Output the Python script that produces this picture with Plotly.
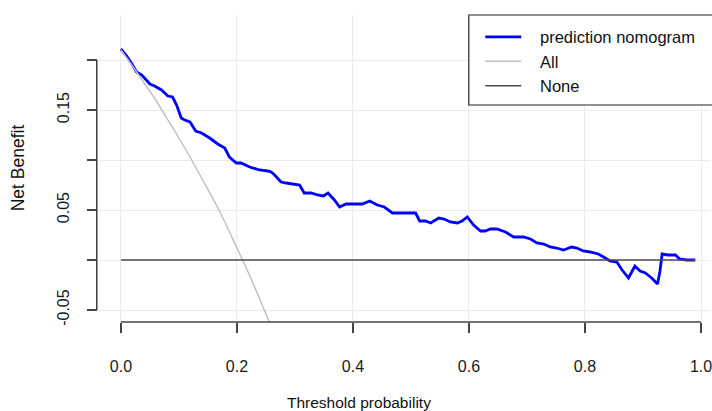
import plotly.graph_objects as go

# Decision curve data
thresholds = [0.000, 0.010, 0.018, 0.027, 0.036, 0.041, 0.050, 0.058, 0.070, 0.081,
              0.089, 0.096, 0.104, 0.110, 0.119, 0.129, 0.139, 0.153, 0.167, 0.179,
              0.187, 0.199, 0.207, 0.222, 0.239, 0.253, 0.259, 0.265, 0.276, 0.285,
              0.308, 0.316, 0.328, 0.339, 0.349, 0.357, 0.368, 0.377, 0.388, 0.416,
              0.429, 0.442, 0.454, 0.468, 0.488, 0.508, 0.515, 0.525, 0.534, 0.548,
              0.557, 0.568, 0.580, 0.588, 0.597, 0.608, 0.620, 0.628, 0.637, 0.648,
              0.663, 0.677, 0.694, 0.706, 0.717, 0.729, 0.740, 0.751, 0.763, 0.769,
              0.777, 0.786, 0.797, 0.809, 0.823, 0.835, 0.843, 0.855, 0.864, 0.875,
              0.886, 0.895, 0.904, 0.915, 0.925, 0.929, 0.933, 0.943, 0.956, 0.963,
              0.975, 0.990]
nomogram_nb = [0.211, 0.204, 0.197, 0.188, 0.185, 0.182, 0.176, 0.174, 0.170, 0.164,
               0.163, 0.155, 0.142, 0.140, 0.138, 0.129, 0.127, 0.122, 0.116, 0.112,
               0.103, 0.097, 0.097, 0.093, 0.090, 0.089, 0.088, 0.085, 0.078, 0.077,
               0.075, 0.067, 0.067, 0.065, 0.064, 0.067, 0.060, 0.053, 0.056, 0.056,
               0.059, 0.055, 0.053, 0.047, 0.047, 0.047, 0.039, 0.039, 0.037, 0.042,
               0.041, 0.038, 0.037, 0.039, 0.043, 0.035, 0.029, 0.029, 0.031, 0.031,
               0.028, 0.023, 0.023, 0.021, 0.017, 0.016, 0.013, 0.012, 0.010, 0.011,
               0.013, 0.012, 0.009, 0.008, 0.006, 0.002, -0.001, -0.002, -0.010, -0.018,
               -0.006, -0.011, -0.013, -0.018, -0.024, -0.012, 0.006, 0.005, 0.005, 0.001,
               0.000, 0.000]

all_thresholds = [0.00, 0.02, 0.04, 0.06, 0.08, 0.10, 0.12, 0.14, 0.16, 0.18, 0.20, 0.22, 0.24, 0.26]
all_nb = [0.210, 0.194, 0.177, 0.160, 0.141, 0.122, 0.102, 0.081, 0.060, 0.037, 0.012, -0.013, -0.040, -0.068]

none_thresholds = [0.0, 0.99]
none_nb = [0.0, 0.0]

series_names = ["prediction nomogram", "All", "None"]

x_ticks = [0.0, 0.2, 0.4, 0.6, 0.8, 1.0]
x_ticktext = ["0.0", "0.2", "0.4", "0.6", "0.8", "1.0"]
y_ticks = [-0.05, 0.0, 0.05, 0.10, 0.15, 0.20]
y_ticktext = ["-0.05", "", "0.05", "", "0.15", ""]

FONT = "Liberation Sans, Arial, sans-serif"
AXC = "#444444"
PAD = "\u00a0\u00a0\u00a0"  # gap between legend line sample and label (as in R legend)

fig = go.Figure()
fig.add_trace(go.Scatter(x=thresholds, y=nomogram_nb, mode="lines",
                         name=PAD + series_names[0],
                         line=dict(color="#0000ff", width=2.8)))
fig.add_trace(go.Scatter(x=all_thresholds, y=all_nb, mode="lines", name=PAD + series_names[1],
                         line=dict(color="#bebebe", width=1.4, shape="spline")))
fig.add_trace(go.Scatter(x=none_thresholds, y=none_nb, mode="lines", name=PAD + series_names[2],
                         line=dict(color="#4a4a4a", width=1.6)))

fig.update_layout(
    width=712, height=411,
    margin=dict(l=98, r=0, t=15, b=89),
    plot_bgcolor="white", paper_bgcolor="white",
    font=dict(family=FONT, color="#1a1a1a", size=16),
    showlegend=True,
    legend=dict(x=0.6246, y=0.985, xanchor="left", yanchor="top",
                bgcolor="rgba(0,0,0,0)", borderwidth=0, itemwidth=36,
                font=dict(size=16.5, family=FONT, color="#111111")),
    xaxis=dict(range=[-0.0395, 1.0155], tickvals=x_ticks, ticktext=x_ticktext,
               ticks="outside", ticklen=10, tickwidth=1.5, tickcolor=AXC,
               showgrid=True, gridcolor="#ebebeb", gridwidth=1,
               zeroline=False, showline=False, ticklabelstandoff=20,
               ticklabeloverflow="allow", tickfont=dict(size=16)),
    yaxis=dict(range=[-0.062, 0.245], tickvals=y_ticks, ticktext=y_ticktext,
               ticks="outside", ticklen=10, tickwidth=1.5, tickcolor=AXC,
               showgrid=True, gridcolor="#ebebeb", gridwidth=1,
               zeroline=False, showline=False, tickangle=-90,
               ticklabelstandoff=12, tickfont=dict(size=16)),
    shapes=[
        # detached R-style axis lines spanning the tick range
        dict(type="line", xref="x", yref="paper", x0=x_ticks[0], x1=x_ticks[-1],
             y0=0, y1=0, line=dict(color=AXC, width=1.6)),
        dict(type="line", xref="paper", yref="y", x0=-0.002, x1=-0.002,
             y0=y_ticks[0], y1=y_ticks[-1], line=dict(color=AXC, width=1.6)),
        # legend box
        dict(type="rect", xref="paper", yref="paper", x0=0.6059, x1=1.06,
             y0=0.7068, y1=1.0, line=dict(color="#222222", width=1.2),
             fillcolor="white", layer="above"),
    ],
    annotations=[
        dict(text="Threshold probability", xref="paper", yref="paper",
             x=0.4267, y=-0.2606, xanchor="center", yanchor="middle",
             showarrow=False, font=dict(size=15.5, family=FONT, color="#111111")),
        dict(text="Net Benefit", xref="paper", yref="paper",
             x=-0.1303, y=0.5016, xanchor="center", yanchor="middle",
             textangle=-90, showarrow=False,
             font=dict(size=17.5, family=FONT, color="#111111")),
    ],
)

fig.write_html("out.html")
